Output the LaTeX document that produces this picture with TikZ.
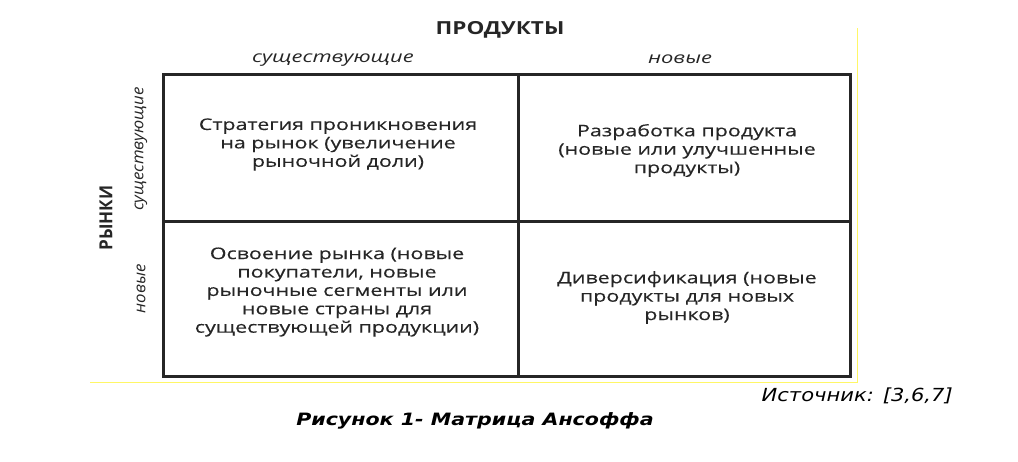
\documentclass[tikz,border=0pt]{standalone}
\usepackage{fontspec}
\setmainfont{Open Sans}
\newfontfamily\cellfont[FakeStretch=1.34, FakeBold=0.3]{Open Sans}
\newfontfamily\titlefont[FakeStretch=1.25]{Open Sans}
\newfontfamily\sidetitlefont[FakeStretch=0.95]{Open Sans}
\newfontfamily\valuefont[FakeStretch=1.37]{Open Sans}
\newfontfamily\sidevaluefont[FakeStretch=1.05]{Open Sans}
\newfontfamily\sourcefont[FakeStretch=1.17]{DejaVu Sans}
\newfontfamily\captionfont[FakeStretch=1.21]{DejaVu Sans}
\tikzset{
  gridline/.style={line width=3pt, draw=black!85},
  celltext/.style={align=center, text=black!85, inner sep=0pt,
    font=\cellfont\fontsize{16}{18.4}\selectfont},
  axistitle/.style={text=black!85, inner sep=0pt,
    font=\titlefont\bfseries\fontsize{18}{20}\selectfont},
  axisvalue/.style={text=black!85, inner sep=0pt,
    font=\valuefont\itshape\fontsize{16}{18}\selectfont},
  notetext/.style={inner sep=0pt, font=\sourcefont\itshape\fontsize{18}{20}\selectfont}
}
\begin{document}
\begin{tikzpicture}[x=1pt,y=-1pt]
\useasboundingbox (0,0) rectangle (1018,461);
%\draw[lightgray] (0,0) grid[step=50] (1018,461);

% edge of the pasted screenshot
\draw[yellow!60, line width=0.8pt] (90,382) -- (857,382) -- (857,28);

% matrix
\coordinate (nw) at (163,74);
\coordinate (se) at (850,376);
\coordinate (mid) at (518,221);
\draw[gridline] (nw) rectangle (se);
\draw[gridline] (mid |- nw) -- (mid |- se);
\draw[gridline] (nw |- mid) -- (se |- mid);

% axes
\node[axistitle] (products) at (500,29.5) {ПРОДУКТЫ};
\node[axisvalue] (prodold) at (333,60) {существующие};
\node[axisvalue] (prodnew) at (680,59) {новые};
\node[axistitle, font=\sidetitlefont\bfseries\fontsize{18}{20}\selectfont, rotate=90] (markets) at (106,218) {РЫНКИ};
\node[axisvalue, font=\sidevaluefont\itshape\fontsize{16}{18}\selectfont, rotate=90] (markold) at (141,149) {существующие};
\node[axisvalue, font=\sidevaluefont\itshape\fontsize{16}{18}\selectfont, rotate=90] (marknew) at (141,289) {новые};

% strategies
\node[celltext] (penetration) at (338,144.5) {Стратегия проникновения\\на рынок (увеличение\\рыночной доли)};
\node[celltext] (development) at (687,150.5) {Разработка продукта\\(новые или улучшенные\\продукты)};
\node[celltext] (marketdev) at (337,292) {Освоение рынка (новые\\покупатели, новые\\рыночные сегменты или\\новые страны для\\существующей продукции)};
\node[celltext] (diversification) at (687,297.5) {Диверсификация (новые\\продукты для новых\\рынков)};

% caption
\node[notetext, anchor=east] (source) at (953,396) {Источник: [3,6,7]};
\node[notetext, font=\captionfont\bfseries\itshape\fontsize{17}{19}\selectfont] (caption) at (475,420.5) {Рисунок 1- Матрица Ансоффа};
\end{tikzpicture}
\end{document}
